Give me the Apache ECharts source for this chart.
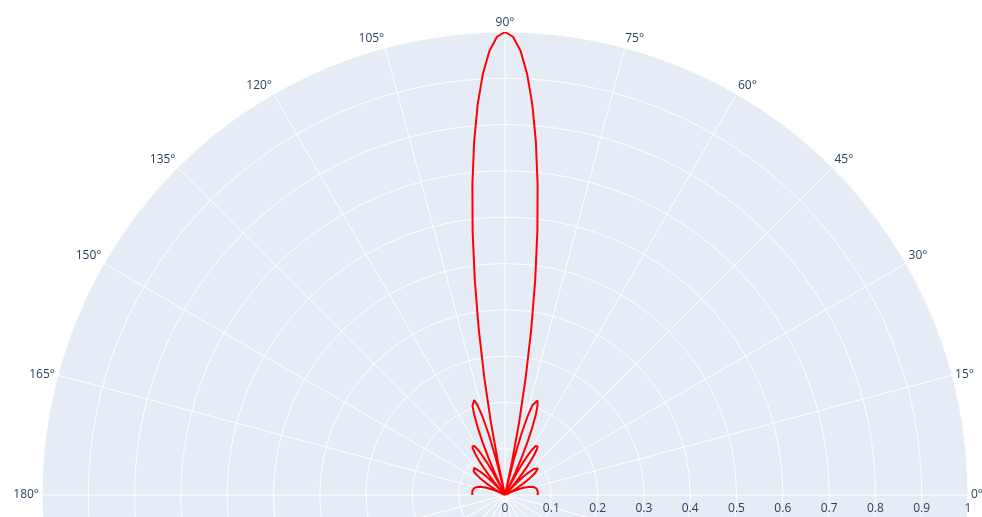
<!DOCTYPE html>
<html>
<head>
<meta charset="utf-8">
<title>polar pattern</title>
<script src="https://cdn.jsdelivr.net/npm/echarts/dist/echarts.min.js"></script>
<style>
	html, body { margin: 0; padding: 0; background: #fff; }
	#patternChart { width: 982px; height: 517px; }
</style>
</head>
<body>
<div id="patternChart"></div>
<script>
// angle (deg) of each sample
var thetaDeg = [
	0, 1, 2, 3, 4, 5, 6, 7, 8, 9, 10, 11, 12, 13, 14, 15, 16, 17, 18, 19, 20, 21, 22, 23, 24, 25, 26, 27,
	27.27,
	28, 29, 30, 31, 32, 33, 34, 35, 36, 37, 38, 39, 40, 41, 42, 43, 44, 45, 46, 47, 48,
	48.19,
	49, 50, 51, 52, 53, 54, 55, 56, 57, 58, 59, 60, 61, 62, 63,
	63.61,
	64, 65, 66, 67, 68, 69, 70, 71, 72, 73, 74, 75, 76, 77,
	77.16,
	78, 79, 80, 81, 82, 83, 84, 85, 86, 87, 88, 89, 90, 91, 92, 93, 94, 95, 96, 97, 98, 99, 100, 101, 102,
	102.84,
	103, 104, 105, 106, 107, 108, 109, 110, 111, 112, 113, 114, 115, 116,
	116.39,
	117, 118, 119, 120, 121, 122, 123, 124, 125, 126, 127, 128, 129, 130, 131,
	131.81,
	132, 133, 134, 135, 136, 137, 138, 139, 140, 141, 142, 143, 144, 145, 146, 147, 148, 149, 150, 151, 152,
	152.73,
	153, 154, 155, 156, 157, 158, 159, 160, 161, 162, 163, 164, 165, 166, 167, 168, 169, 170, 171, 172, 173, 174, 175, 176, 177, 178, 179, 180
];
// normalised magnitude at each angle
var rValue = [
	0.0707, 0.0707, 0.0708, 0.0708, 0.0709, 0.0709, 0.0709, 0.0709, 0.0708, 0.0705, 0.0702, 0.0696, 0.0689, 0.0679, 0.0666, 0.0649, 0.0628, 0.0603, 0.0573, 0.0537, 0.0495, 0.0447, 0.0393, 0.0332, 0.0264, 0.0190, 0.0110, 0.0024,
	0,
	0.0067, 0.0162, 0.0259, 0.0358, 0.0455, 0.0550, 0.0639, 0.0720, 0.0790, 0.0847, 0.0888, 0.0910, 0.0911, 0.0888, 0.0840, 0.0767, 0.0666, 0.0541, 0.0393, 0.0223, 0.0037,
	0,
	0.0161, 0.0364, 0.0566, 0.0758, 0.0933, 0.1081, 0.1194, 0.1263, 0.1283, 0.1248, 0.1154, 0.1000, 0.0788, 0.0522, 0.0210,
	0,
	0.0138, 0.0508, 0.0884, 0.1246, 0.1576, 0.1851, 0.2052, 0.2159, 0.2155, 0.2025, 0.1759, 0.1352, 0.0804, 0.0121,
	0,
	0.0683, 0.1593, 0.2583, 0.3625, 0.4687, 0.5737, 0.6738, 0.7655, 0.8456, 0.9112, 0.9599, 0.9899, 1.0000, 0.9899, 0.9599, 0.9112, 0.8456, 0.7655, 0.6738, 0.5737, 0.4687, 0.3625, 0.2583, 0.1593, 0.0683,
	0,
	0.0121, 0.0804, 0.1352, 0.1759, 0.2025, 0.2155, 0.2159, 0.2052, 0.1851, 0.1576, 0.1246, 0.0884, 0.0508, 0.0138,
	0,
	0.0210, 0.0522, 0.0788, 0.1000, 0.1154, 0.1248, 0.1283, 0.1263, 0.1194, 0.1081, 0.0933, 0.0758, 0.0566, 0.0364, 0.0161,
	0,
	0.0037, 0.0223, 0.0393, 0.0541, 0.0666, 0.0767, 0.0840, 0.0888, 0.0911, 0.0910, 0.0888, 0.0847, 0.0790, 0.0720, 0.0639, 0.0550, 0.0455, 0.0358, 0.0259, 0.0162, 0.0067,
	0,
	0.0024, 0.0110, 0.0190, 0.0264, 0.0332, 0.0393, 0.0447, 0.0495, 0.0537, 0.0573, 0.0603, 0.0628, 0.0649, 0.0666, 0.0679, 0.0689, 0.0696, 0.0702, 0.0705, 0.0708, 0.0709, 0.0709, 0.0709, 0.0709, 0.0708, 0.0708, 0.0707, 0.0707
];
// axis ticks (full circle, the picture only shows its top half)
var radialMax = 1;
var radialStep = 0.1;
var angleMax = 360;
var angleStep = 15;

var textColor = '#2a3f5f';
var fontName = '"Open Sans", "Liberation Sans", sans-serif';

// polar series wants [radius, angle]
var lineData = [];
for (var i = 0; i < thetaDeg.length; i++) {
	lineData.push([rValue[i], thetaDeg[i]]);
}

// same geometry for both polars: #0 paints the background, #1 the grid + line
var polarCenter = [505, 495];
var polarRadius = 463;

var labelBase = { color : textColor, fontFamily : fontName, fontSize : 12 };

var chart = echarts.init(document.getElementById('patternChart'));
var option = {
	backgroundColor : '#ffffff',
	animation : false,
	polar : [
		{ center : polarCenter, radius : polarRadius },
		{ center : polarCenter, radius : polarRadius }
	],
	angleAxis : [
		{
			polarIndex : 0,
			type : 'value',
			min : 0,
			max : angleMax,
			interval : angleStep,
			startAngle : 0,
			clockwise : false,
			z : 0,
			axisLine : { show : false },
			axisTick : { show : false },
			axisLabel : { show : false },
			splitLine : { show : false }
		},
		{
			polarIndex : 1,
			type : 'value',
			min : 0,
			max : angleMax,
			interval : angleStep,
			startAngle : 0,
			clockwise : false,
			z : 2,
			axisLine : { show : false },
			axisTick : { show : false },
			axisLabel : {
				color : textColor,
				fontFamily : fontName,
				fontSize : 12,
				margin : 3,
				// 75 / 105 sit a bit further sideways in the original
				formatter : function(value) {
					var txt = value + '°';
					if (value === 105) return '{l|' + txt + '}';
					if (value === 75) return '{r|' + txt + '}';
					return txt;
				},
				rich : {
					l : echarts.util.extend({ padding : [0, 26, 0, 0] }, labelBase),
					r : echarts.util.extend({ padding : [0, 0, 0, 18] }, labelBase)
				}
			},
			splitLine : {
				show : true,
				lineStyle : { color : '#ffffff', width : 1 }
			}
		}
	],
	radiusAxis : [
		{
			polarIndex : 0,
			type : 'value',
			min : 0,
			max : radialMax,
			interval : radialStep,
			z : 0,
			axisLine : { show : false },
			axisTick : { show : false },
			axisLabel : { show : false },
			splitLine : { show : false },
			splitArea : {
				show : true,
				areaStyle : { color : ['#E5ECF6'] }
			}
		},
		{
			polarIndex : 1,
			type : 'value',
			min : 0,
			max : radialMax,
			interval : radialStep,
			z : 2,
			axisLine : { show : false },
			axisTick : { show : false },
			axisLabel : {
				color : textColor,
				fontFamily : fontName,
				fontSize : 12,
				margin : -8,
				verticalAlign : 'top'
			},
			splitLine : {
				show : true,
				lineStyle : { color : '#ffffff', width : 1 }
			}
		}
	],
	series : [
		{
			type : 'line',
			coordinateSystem : 'polar',
			polarIndex : 1,
			z : 5,
			data : lineData,
			showSymbol : false,
			smooth : false,
			lineStyle : { color : '#ff0000', width : 2 }
		}
	]
};
chart.setOption(option);
</script>
</body>
</html>
